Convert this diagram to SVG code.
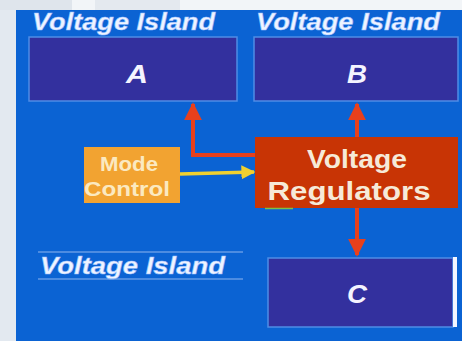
<svg xmlns="http://www.w3.org/2000/svg" width="462" height="341" viewBox="0 0 462 341">
<defs>
<style>
.isl{fill:#33309e;stroke:#4f8de6;stroke-width:1.5}
.ttl{font-family:"Liberation Sans",Arial,sans-serif;font-weight:bold;font-style:italic;font-size:23px;fill:#eef4ff;stroke:#9fc0ff;stroke-width:0.5}
.big{font-family:"Liberation Sans",Arial,sans-serif;font-weight:bold;font-style:italic;font-size:25px;fill:#f4f4ff;text-anchor:middle}
.reg{font-family:"Liberation Sans",Arial,sans-serif;font-weight:bold;font-size:25px;fill:#f6ead8;text-anchor:middle}
.mode{font-family:"Liberation Sans",Arial,sans-serif;font-weight:bold;font-size:21px;fill:#fbe9c0;text-anchor:middle}
.red{stroke:#e8401c;stroke-width:4;fill:none}
</style>
<marker id="ah" viewBox="0 0 10 10" refX="9" refY="5" markerWidth="4.5" markerHeight="4.5" orient="auto"><path d="M0,0 L10,5 L0,10 Z" fill="#e8401c"/></marker>
<marker id="ahy" viewBox="0 0 10 10" refX="9" refY="5" markerWidth="4" markerHeight="4" orient="auto"><path d="M0,0 L10,5 L0,10 Z" fill="#f0d030"/></marker>
</defs>
<rect width="462" height="341" fill="#e3e9f0"/>
<rect x="0" y="0" width="462" height="10" fill="#f2f5f8"/>
<rect x="0" y="0" width="72" height="10" fill="#dfe5ec"/>
<rect x="95" y="0" width="85" height="10" fill="#e4e9ef"/>
<rect x="16" y="10" width="446" height="331" fill="#0b63d3"/>

<g id="connectors">
<path class="red" d="M255,155 L193,155 L193,104" marker-end="url(#ah)"/>
<path class="red" d="M357,137 L357,104" marker-end="url(#ah)"/>
<path class="red" stroke-width="3" d="M357,208 L357,255" marker-end="url(#ah)"/>
<path d="M180,174 L254,172" stroke="#f0d030" stroke-width="3.5" fill="none" marker-end="url(#ahy)"/>
</g>

<g id="islandA">
<text class="ttl" x="32" y="30" textLength="183" lengthAdjust="spacingAndGlyphs">Voltage Island</text>
<rect class="isl" x="29" y="37" width="208" height="64"/>
<text class="big" x="137" y="83" textLength="22" lengthAdjust="spacingAndGlyphs">A</text>
</g>
<g id="islandB">
<text class="ttl" x="256" y="30" textLength="184" lengthAdjust="spacingAndGlyphs">Voltage Island</text>
<rect class="isl" x="254" y="37" width="204" height="64"/>
<text class="big" x="357" y="83" textLength="20" lengthAdjust="spacingAndGlyphs">B</text>
</g>
<g id="islandC">
<line x1="38" y1="252" x2="243" y2="252" stroke="#8fb6f0" stroke-width="1.2"/>
<text class="ttl" x="40" y="274" textLength="185" lengthAdjust="spacingAndGlyphs">Voltage Island</text>
<line x1="38" y1="279" x2="243" y2="279" stroke="#8fb6f0" stroke-width="1"/>
<rect class="isl" x="268" y="258" width="185" height="69"/>
<rect x="453" y="257" width="4" height="70" fill="#f4f6ff"/>
<text class="big" x="357" y="303" textLength="20" lengthAdjust="spacingAndGlyphs">C</text>
</g>
<g id="regulators">
<rect x="255" y="137" width="203" height="71" fill="#c83405"/>
<line x1="265" y1="208.5" x2="293" y2="208.5" stroke="#7cc04a" stroke-width="1.5"/>
<text class="reg" x="357" y="168" textLength="100" lengthAdjust="spacingAndGlyphs">Voltage</text>
<text class="reg" x="349" y="200" textLength="163" lengthAdjust="spacingAndGlyphs">Regulators</text>
</g>
<g id="modeControl">
<rect x="84" y="147" width="96" height="56" fill="#f2a331"/>
<text class="mode" x="129" y="171" textLength="58" lengthAdjust="spacingAndGlyphs">Mode</text>
<text class="mode" x="127" y="196" textLength="86" lengthAdjust="spacingAndGlyphs">Control</text>
</g>
</svg>
